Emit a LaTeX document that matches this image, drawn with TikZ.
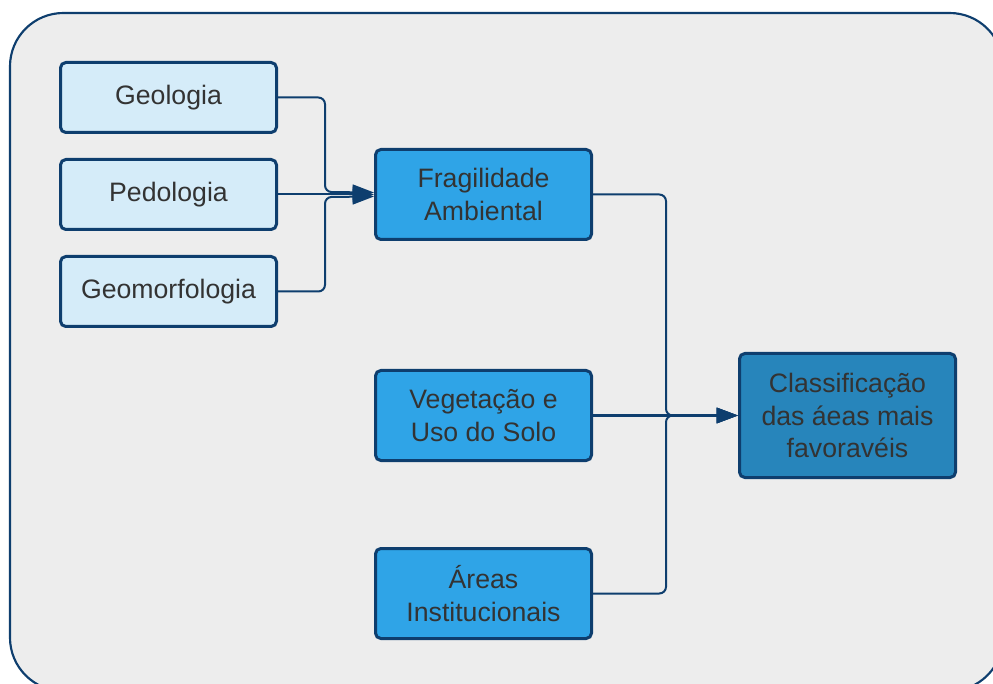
\documentclass[tikz,border=0pt]{standalone}
\usepackage{fontspec}
\setmainfont{Liberation Sans}
\usetikzlibrary{arrows.meta,calc}
\definecolor{bgray}{HTML}{EDEDED}
\definecolor{navy}{HTML}{0E3E6E}
\definecolor{lightbox}{HTML}{D5ECF9}
\definecolor{midbox}{HTML}{2FA4E7}
\definecolor{darkbox}{HTML}{2785BB}
\definecolor{txt}{HTML}{333333}
\tikzset{
  box/.style={draw=navy, line width=2.25pt, rounded corners=4pt, inner sep=0pt,
    minimum width=162pt, align=center, text=txt,
    font=\fontsize{20}{24.5}\selectfont},
  srcbox/.style={box, fill=lightbox, minimum height=52.5pt},
  midnode/.style={box, fill=midbox, minimum height=67.5pt},
  resbox/.style={box, fill=darkbox, minimum height=93pt},
  conn/.style={draw=navy, line width=1.5pt, rounded corners=5pt},
  arr/.style={conn, -{Triangle[length=16pt,width=11.5pt]}},
}
\begin{document}
\begin{tikzpicture}[x=0.75pt,y=-0.75pt]
\useasboundingbox (0,0) rectangle (993,684);
\fill[white] (0,0) rectangle (993,684);
\draw[navy, fill=bgray, line width=1.6pt, rounded corners=40pt] (10,13) rectangle (1003,691);

\node[srcbox] (geo) at (168.5,97.5) {Geologia};
\node[srcbox] (ped) at (168.5,194.5) {Pedologia};
\node[srcbox] (gmf) at (168.5,291.5) {Geomorfologia};
\node[midnode] (frag) at (483.5,194.5) {Fragilidade\\Ambiental};
\node[midnode] (veg) at (483.5,415.5) {Vegetação e\\Uso do Solo};
\node[midnode] (are) at (483.5,593.5) {Áreas\\Institucionais};
\node[resbox] (cls) at (847.5,415.5) {Classificação\\das áeas mais\\favoravéis};

\draw[arr] (geo.east) -- (325,97.5) -- (325,192) -- ($(frag.west)+(0,-2)$);
\draw[arr] (ped.east) -- (frag.west);
\draw[arr] (gmf.east) -- (325,291.5) -- (325,197) -- ($(frag.west)+(0,2)$);

\draw[arr] (frag.east) -- (666,194.5) -- (666,415.5) -- (cls.west);
\draw[arr] (veg.east) -- (cls.west);
\draw[arr] (are.east) -- (666,593.5) -- (666,415.5) -- (cls.west);
\end{tikzpicture}
\end{document}
